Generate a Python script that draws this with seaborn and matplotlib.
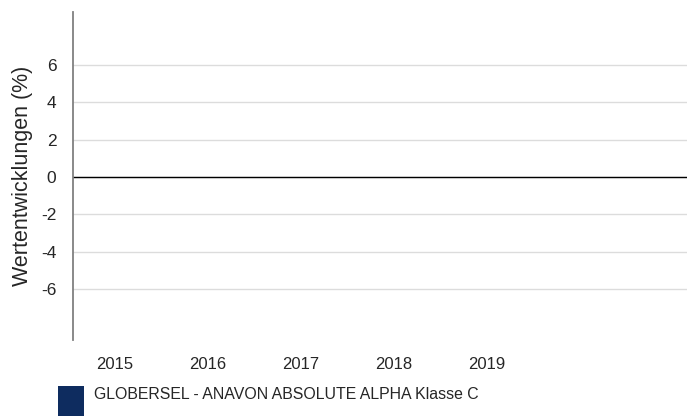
import numpy as np
import pandas as pd
import matplotlib
matplotlib.use("Agg")
import matplotlib.pyplot as plt
from matplotlib.patches import Patch, Rectangle
from matplotlib.legend_handler import HandlerPatch
import seaborn as sns

# data: the fund has no reported yearly returns, so every value is missing
years = ["2015", "2016", "2017", "2018", "2019"]
returns = [np.nan, np.nan, np.nan, np.nan, np.nan]
fund_name = "GLOBERSEL - ANAVON ABSOLUTE ALPHA Klasse C"
y_ticks = [-6, -4, -2, 0, 2, 4, 6]

navy = "#0e2c5f"

sns.set_style("white")
plt.rcParams["font.family"] = ["Liberation Sans", "DejaVu Sans"]
plt.rcParams["axes.unicode_minus"] = False

df = pd.DataFrame({"Jahr": years, "Rendite": returns})

fig = plt.figure(figsize=(6.87, 4.17), dpi=100)
ax = fig.add_axes([0.1063, 0.1847, 0.8937, 0.7863])

sns.barplot(data=df, x="Jahr", y="Rendite", color=navy, ax=ax, width=0.5)

ax.set_ylim(-8.72, 8.83)
ax.set_xlim(-0.45, 6.15)
ax.set_yticks(y_ticks)
ax.set_yticklabels([str(v) for v in y_ticks])
ax.yaxis.grid(True, color="#dcdcdc", linewidth=1)
ax.set_axisbelow(True)
ax.axhline(0, color="black", linewidth=1)

for s in ["top", "right", "bottom"]:
    ax.spines[s].set_visible(False)
ax.spines["left"].set_color("#808080")
ax.spines["left"].set_linewidth(1.3)

ax.tick_params(axis="y", length=6, color="#e4e4e4", labelsize=12.5, pad=6)
ax.tick_params(axis="x", length=0, labelsize=12, pad=12)
# the zero tick continues the black baseline to the left of the spine
for tick in ax.yaxis.get_major_ticks():
    if tick.get_loc() == 0:
        tick.tick1line.set_color("black")
ax.set_xlabel("")
ax.set_ylabel("Wertentwicklungen (%)", fontsize=15.5, labelpad=6)


# legend square runs off the bottom edge like in the source
def tall_square(legend, orig_handle, xdescent, ydescent, width, height, fontsize):
    extra = 0.9 * fontsize
    return Rectangle((-xdescent, -ydescent - extra), width, height + extra)


handle = Patch(facecolor=navy, edgecolor="none", label=fund_name)
fig.legend(handles=[handle], loc="lower left", bbox_to_anchor=(0.075, 0.02),
           frameon=False, fontsize=11.4, handlelength=1.65, handleheight=1.2,
           handletextpad=0.65, borderaxespad=0,
           handler_map={Patch: HandlerPatch(patch_func=tall_square)})

fig.savefig("out.png", dpi=100)
